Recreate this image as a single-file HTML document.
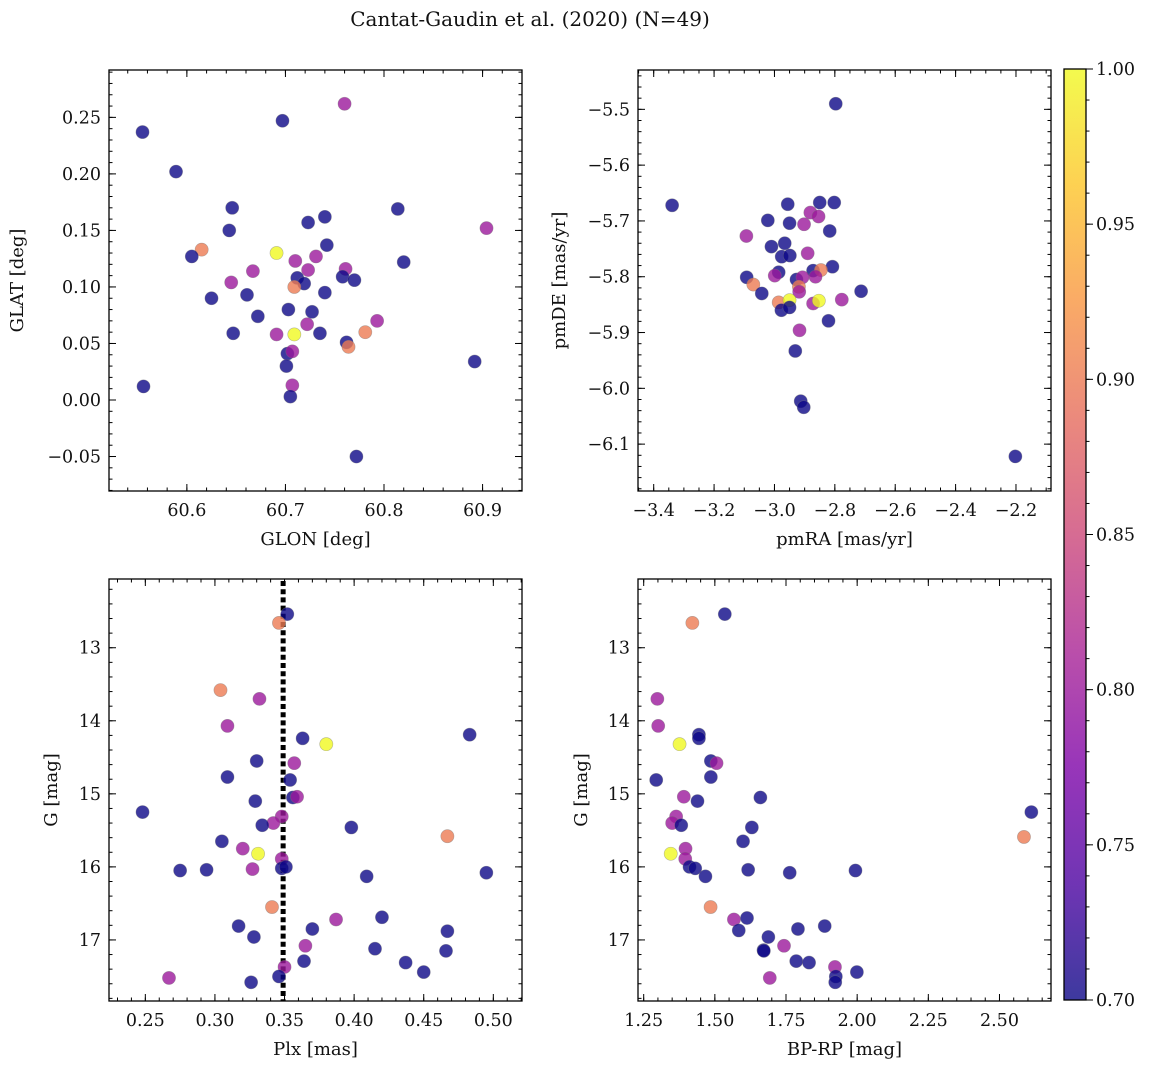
<!DOCTYPE html>
<html><head><meta charset="utf-8">
<style>
html,body{margin:0;padding:0;background:#fff;}
svg text{font-family:"DejaVu Serif","Liberation Serif",serif;fill:#111;}
</style></head>
<body>
<svg id="fig" width="1149" height="1068" viewBox="0 0 1149 1068" xmlns="http://www.w3.org/2000/svg">
<text x="530" y="26" font-size="20" text-anchor="middle">Cantat-Gaudin et al. (2020) (N=49)</text>
</svg>
<script>
// Panel 1: GLON / GLAT
const p1x=[60.555,60.697,60.760,60.589,60.646,60.814,60.904,60.643,60.723,60.740,60.615,60.605,60.691,60.742,60.710,60.731,60.667,60.723,60.761,60.820,60.645,60.712,60.719,60.758,60.770,60.709,60.625,60.661,60.740,60.703,60.727,60.672,60.793,60.722,60.647,60.691,60.709,60.735,60.781,60.762,60.764,60.702,60.707,60.701,60.892,60.556,60.707,60.705,60.772];
const p1y=[0.237,0.247,0.262,0.202,0.170,0.169,0.152,0.150,0.157,0.162,0.133,0.127,0.130,0.137,0.123,0.127,0.114,0.115,0.116,0.122,0.104,0.108,0.103,0.109,0.106,0.100,0.090,0.093,0.095,0.080,0.078,0.074,0.070,0.067,0.059,0.058,0.058,0.059,0.060,0.051,0.047,0.041,0.043,0.030,0.034,0.012,0.013,0.003,-0.050];
const p1c=[0.7,0.7,0.8,0.7,0.7,0.7,0.8,0.7,0.7,0.7,0.9,0.7,1.0,0.7,0.8,0.8,0.8,0.8,0.8,0.7,0.8,0.7,0.7,0.7,0.7,0.9,0.7,0.7,0.7,0.7,0.7,0.7,0.8,0.8,0.7,0.8,1.0,0.7,0.9,0.7,0.9,0.7,0.8,0.7,0.7,0.7,0.8,0.7,0.7];
// Panel 2: pmRA / pmDE
const p2x=[-2.797,-3.339,-2.956,-2.850,-2.802,-3.022,-2.950,-2.881,-2.854,-2.902,-2.817,-3.093,-3.010,-2.966,-2.976,-2.949,-2.890,-2.808,-2.986,-2.999,-3.092,-2.872,-2.846,-2.864,-2.927,-2.907,-3.070,-2.919,-3.042,-2.713,-2.918,-2.986,-2.950,-2.977,-2.950,-2.872,-2.853,-2.777,-2.821,-2.917,-2.931,-2.913,-2.903,-2.202];
const p2y=[-5.490,-5.672,-5.670,-5.667,-5.667,-5.699,-5.704,-5.685,-5.692,-5.706,-5.718,-5.727,-5.746,-5.740,-5.764,-5.762,-5.758,-5.782,-5.792,-5.798,-5.801,-5.789,-5.788,-5.800,-5.805,-5.801,-5.814,-5.818,-5.830,-5.826,-5.827,-5.846,-5.842,-5.860,-5.855,-5.848,-5.843,-5.841,-5.879,-5.896,-5.933,-6.023,-6.034,-6.122];
const p2c=[0.7,0.7,0.7,0.7,0.7,0.7,0.7,0.8,0.8,0.8,0.7,0.8,0.7,0.7,0.7,0.7,0.8,0.7,0.7,0.8,0.7,0.7,0.9,0.8,0.7,0.8,0.9,0.9,0.7,0.7,0.8,0.9,1.0,0.7,0.7,0.8,1.0,0.8,0.7,0.8,0.7,0.7,0.7,0.7];
// Panel 3: Plx / G
const p3x=[0.352,0.346,0.304,0.332,0.309,0.363,0.380,0.483,0.330,0.357,0.309,0.354,0.329,0.356,0.359,0.248,0.348,0.342,0.334,0.398,0.467,0.305,0.320,0.331,0.348,0.275,0.294,0.327,0.348,0.351,0.409,0.495,0.341,0.387,0.420,0.317,0.370,0.467,0.328,0.365,0.415,0.466,0.364,0.437,0.450,0.350,0.346,0.267,0.326];
const p3y=[12.54,12.66,13.58,13.70,14.07,14.24,14.32,14.19,14.55,14.58,14.77,14.81,15.10,15.05,15.04,15.25,15.31,15.40,15.43,15.46,15.58,15.65,15.75,15.82,15.89,16.05,16.04,16.03,16.02,16.00,16.13,16.08,16.55,16.72,16.69,16.81,16.85,16.88,16.96,17.08,17.12,17.15,17.29,17.31,17.44,17.37,17.50,17.52,17.58];
const p3c=[0.7,0.9,0.9,0.8,0.8,0.7,1.0,0.7,0.7,0.8,0.7,0.7,0.7,0.7,0.8,0.7,0.8,0.8,0.7,0.7,0.9,0.7,0.8,1.0,0.8,0.7,0.7,0.8,0.7,0.7,0.7,0.7,0.9,0.8,0.7,0.7,0.7,0.7,0.7,0.8,0.7,0.7,0.7,0.7,0.7,0.8,0.7,0.8,0.7];
const plxRef=0.349;
// Panel 4: BP-RP / G
const p4x=[1.535,1.421,1.298,1.301,1.444,1.444,1.376,1.486,1.506,1.294,1.486,1.391,1.660,1.439,2.612,1.364,1.350,1.382,1.630,2.586,1.599,1.397,1.345,1.396,1.411,1.431,1.617,1.994,1.763,1.467,1.485,1.567,1.613,1.584,1.792,1.886,1.688,1.743,1.671,1.672,1.786,1.831,1.922,1.925,1.999,1.693,1.923];
const p4y=[12.54,12.66,13.70,14.07,14.19,14.24,14.32,14.55,14.58,14.81,14.77,15.04,15.05,15.10,15.25,15.31,15.40,15.43,15.46,15.59,15.65,15.75,15.82,15.89,16.00,16.02,16.04,16.05,16.08,16.13,16.55,16.72,16.70,16.87,16.85,16.81,16.96,17.08,17.14,17.15,17.29,17.31,17.37,17.50,17.44,17.52,17.58];
const p4c=[0.7,0.9,0.8,0.8,0.7,0.7,1.0,0.7,0.8,0.7,0.7,0.8,0.7,0.7,0.7,0.8,0.8,0.7,0.7,0.9,0.7,0.8,1.0,0.8,0.7,0.7,0.7,0.7,0.7,0.7,0.9,0.8,0.7,0.7,0.7,0.7,0.7,0.8,0.7,0.7,0.7,0.7,0.8,0.7,0.7,0.8,0.7];
const cbTicks=[0.70,0.75,0.80,0.85,0.90,0.95,1.00];

const NS="http://www.w3.org/2000/svg";
const fig=document.getElementById('fig');
function el(tag,attrs,parent){const e=document.createElementNS(NS,tag);for(const k in attrs)e.setAttribute(k,attrs[k]);(parent||fig).appendChild(e);return e;}
const stops=[[0,[13,8,135]],[0.125,[76,2,161]],[0.25,[126,3,168]],[0.375,[169,35,149]],[0.5,[204,71,120]],[0.625,[230,108,92]],[0.75,[248,149,64]],[0.875,[253,197,39]],[1,[240,249,33]]];
function plasma(t){t=Math.max(0,Math.min(1,t));for(let i=1;i<stops.length;i++){if(t<=stops[i][0]){const a=stops[i-1],b=stops[i];const f=(t-a[0])/(b[0]-a[0]);const c=a[1].map((v,j)=>Math.round(v+(b[1][j]-v)*f));return `rgb(${c[0]},${c[1]},${c[2]})`;}}return 'rgb(240,249,33)';}
function cnorm(v){return (v-0.7)/0.3;}
function fmt(v,d){let s=v.toFixed(d);return s.replace('-','\u2212');}

function panel(o){
  const g=el('g',{});
  
  
  const sx=v=>o.L+(v-o.x0)/(o.x1-o.x0)*(o.R-o.L);
  const sy=v=>o.T+(v-o.y0)/(o.y1-o.y0)*(o.B-o.T);
  const eps=1e-9;
  function ticks(a0,a1,step){const arr=[];const s=Math.ceil(Math.min(a0,a1)/step-eps);const e=Math.floor(Math.max(a0,a1)/step+eps);for(let i=s;i<=e;i++)arr.push(+(i*step).toFixed(6));return arr;}
  const tg=el('g',{stroke:'#000','stroke-width':1},g);
  
  
  ticks(o.x0,o.x1,o.xmin).forEach(v=>{const x=sx(v);el('line',{x1:x,x2:x,y1:o.B,y2:o.B-3.5},tg);el('line',{x1:x,x2:x,y1:o.T,y2:o.T+3.5},tg);});
  ticks(o.y0,o.y1,o.ymin).forEach(v=>{const y=sy(v);el('line',{x1:o.L,x2:o.L+3.5,y1:y,y2:y},tg);el('line',{x1:o.R,x2:o.R-3.5,y1:y,y2:y},tg);});
  o.xt.forEach(v=>{const x=sx(v);el('line',{x1:x,x2:x,y1:o.B,y2:o.B-7},tg);el('line',{x1:x,x2:x,y1:o.T,y2:o.T+7},tg);
    const t=el('text',{x:x,y:o.B+25,'font-size':17.5,'text-anchor':'middle'},g);t.textContent=fmt(v,o.xd);
    });
  o.yt.forEach(v=>{const y=sy(v);el('line',{x1:o.L,x2:o.L+7,y1:y,y2:y},tg);el('line',{x1:o.R,x2:o.R-7,y1:y,y2:y},tg);
    const t=el('text',{x:o.L-8,y:y+6,'font-size':17.5,'text-anchor':'end'},g);t.textContent=fmt(v,o.yd);
    });
  if(o.vline!==undefined){const x=sx(o.vline);const ln=el('line',{x1:x,x2:x,y1:o.T+2,y2:o.B,stroke:'#000','stroke-width':5,'stroke-dasharray':'5 3.2'},g);
    }
  const pg=el('g',{},g);
  
  
  for(let i=0;i<o.xs.length;i++){
    const c=el('circle',{cx:sx(o.xs[i]),cy:sy(o.ys[i]),r:6.6,fill:plasma(cnorm(o.cs[i])),'fill-opacity':0.8,stroke:'#777','stroke-opacity':0.5,'stroke-width':0.6},pg);
    
    
  }
  const fr=el('rect',{x:o.L,y:o.T,width:o.R-o.L,height:o.B-o.T,fill:'none',stroke:'#000','stroke-width':1.3},g);
  
  const xl=el('text',{x:(o.L+o.R)/2,y:o.B+54,'font-size':18,'text-anchor':'middle'},g);xl.textContent=o.xlab;
  
  const yx=o.ylabX, yy=(o.T+o.B)/2;
  const yl=el('text',{x:yx,y:yy,'font-size':18,'text-anchor':'middle',transform:`rotate(-90 ${yx} ${yy})`},g);yl.textContent=o.ylab;
  
}

panel({name:'glon-glat-panel',L:109,R:522,T:70,B:491,x0:60.521,x1:60.94,y0:0.2919,y1:-0.0805,
  xt:[60.6,60.7,60.8,60.9],xd:1,xmin:0.02,yt:[-0.05,0,0.05,0.10,0.15,0.20,0.25],yd:2,ymin:0.01,
  xs:p1x,ys:p1y,cs:p1c,xlab:'GLON [deg]',ylab:'GLAT [deg]',ylabX:23});
panel({name:'proper-motion-panel',L:638,R:1051,T:70,B:491,x0:-3.452,x1:-2.084,y0:-5.4295,y1:-6.184,
  xt:[-3.4,-3.2,-3.0,-2.8,-2.6,-2.4,-2.2],xd:1,xmin:0.05,yt:[-5.5,-5.6,-5.7,-5.8,-5.9,-6.0,-6.1],yd:1,ymin:0.02,
  xs:p2x,ys:p2y,cs:p2c,xlab:'pmRA [mas/yr]',ylab:'pmDE [mas/yr]',ylabX:565});
panel({name:'parallax-magnitude-panel',L:109,R:522,T:579,B:1001,x0:0.2239,x1:0.5206,y0:12.059,y1:17.836,
  xt:[0.25,0.30,0.35,0.40,0.45,0.50],xd:2,xmin:0.01,yt:[13,14,15,16,17],yd:0,ymin:0.2,
  xs:p3x,ys:p3y,cs:p3c,xlab:'Plx [mas]',ylab:'G [mag]',ylabX:57,vline:plxRef});
panel({name:'color-magnitude-panel',L:638,R:1051,T:579,B:1001,x0:1.230,x1:2.681,y0:12.059,y1:17.836,
  xt:[1.25,1.50,1.75,2.00,2.25,2.50],xd:2,xmin:0.05,yt:[13,14,15,16,17],yd:0,ymin:0.2,
  xs:p4x,ys:p4y,cs:p4c,xlab:'BP-RP [mag]',ylab:'G [mag]',ylabX:587});

(function(){
  const L=1064,R=1086,T=69,B=1000;
  const defs=el('defs',{});
  const lg=el('linearGradient',{id:'cbg',x1:0,y1:1,x2:0,y2:0},defs);
  stops.forEach(s=>el('stop',{offset:s[0],'stop-color':`rgb(${s[1].join(',')})`},lg));
  const g=el('g',{});
  
  
  const r=el('rect',{x:L,y:T,width:R-L,height:B-T,fill:'url(#cbg)','fill-opacity':0.8},g);
  
  const sy=v=>B-(v-0.7)/0.3*(B-T);
  for(let i=0;i<=30;i++){const v=0.7+i*0.01;const y=sy(v);el('line',{x1:R,x2:R+3.5,y1:y,y2:y,stroke:'#000','stroke-width':1},g);}
  cbTicks.forEach(v=>{const y=sy(v);el('line',{x1:R,x2:R+7,y1:y,y2:y,stroke:'#000','stroke-width':1},g);
    const t=el('text',{x:R+10,y:y+6,'font-size':17.5},g);t.textContent=v.toFixed(2);
    });
  el('rect',{x:L,y:T,width:R-L,height:B-T,fill:'none',stroke:'#000','stroke-width':1.3},g);
})();
</script>
</body></html>
